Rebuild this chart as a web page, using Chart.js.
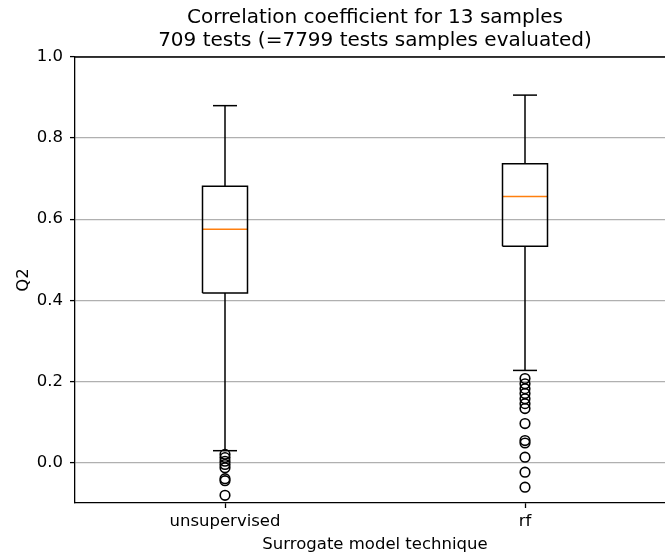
<!DOCTYPE html>
<html>
<head>
<meta charset="utf-8">
<script src="https://cdn.jsdelivr.net/npm/chart.js@4.4.1/dist/chart.umd.min.js"></script>
<style>
  html, body { margin: 0; padding: 0; background: #fff; overflow: hidden; }
  #wrap { width: 675px; height: 555px; }
</style>
</head>
<body>
<div id="wrap"><canvas id="myChart" width="675" height="555"></canvas></div>
<script>
  // box statistics
  const categories = ['unsupervised', 'rf'];
  const whiskerLow = [0.029, 0.227];
  const q1 = [0.418, 0.533];
  const median = [0.575, 0.656];
  const q3 = [0.681, 0.737];
  const whiskerHigh = [0.880, 0.906];
  const outliersUnsupervised = [0.020, 0.012, 0.003, -0.005, -0.013, -0.040, -0.045, -0.081];
  const outliersRf = [0.207, 0.194, 0.182, 0.170, 0.157, 0.145, 0.133, 0.096, 0.054, 0.048, 0.013, -0.024, -0.061];
  const outliers = [outliersUnsupervised, outliersRf];
  const yTicks = [0.0, 0.2, 0.4, 0.6, 0.8, 1.0];

  const boxHalf = 0.075;   // half box width, in x units
  const capHalf = 0.04;
  const font = { family: 'DejaVu Sans', size: 16.5, weight: 'normal' };

  const line = (data, color) => ({
    data: data,
    showLine: true,
    borderColor: color || '#000',
    borderWidth: 1.5,
    borderJoinStyle: 'miter',
    pointRadius: 0,
    pointHoverRadius: 0,
    fill: false,
    tension: 0
  });

  const datasets = [];
  categories.forEach((c, i) => {
    const x = i + 1;
    // box
    datasets.push(line([
      { x: x - boxHalf, y: q1[i] }, { x: x + boxHalf, y: q1[i] },
      { x: x + boxHalf, y: q3[i] }, { x: x - boxHalf, y: q3[i] },
      { x: x - boxHalf, y: q1[i] }
    ]));
    // whiskers
    datasets.push(line([{ x: x, y: q1[i] }, { x: x, y: whiskerLow[i] }]));
    datasets.push(line([{ x: x, y: q3[i] }, { x: x, y: whiskerHigh[i] }]));
    // caps
    datasets.push(line([{ x: x - capHalf, y: whiskerLow[i] }, { x: x + capHalf, y: whiskerLow[i] }]));
    datasets.push(line([{ x: x - capHalf, y: whiskerHigh[i] }, { x: x + capHalf, y: whiskerHigh[i] }]));
  });
  categories.forEach((c, i) => {
    const x = i + 1;
    datasets.push(line([{ x: x - boxHalf, y: median[i] }, { x: x + boxHalf, y: median[i] }], '#ff7f0e'));
  });
  categories.forEach((c, i) => {
    datasets.push({
      data: outliers[i].map(v => ({ x: i + 1, y: v })),
      showLine: false,
      pointStyle: 'circle',
      pointRadius: 4.8,
      pointHoverRadius: 4.8,
      pointBorderWidth: 1.6,
      borderColor: '#000',
      backgroundColor: 'rgba(0,0,0,0)'
    });
  });

  // top and right spines (matplotlib frame); the right one falls just outside the window
  const frame = {
    id: 'frame',
    afterDraw(chart) {
      const { ctx, chartArea: a } = chart;
      ctx.save();
      ctx.strokeStyle = '#000';
      ctx.lineWidth = 1.3;
      ctx.beginPath();
      ctx.moveTo(a.left - 0.65, a.top);
      ctx.lineTo(a.right, a.top);
      ctx.lineTo(a.right, a.bottom);
      ctx.stroke();
      ctx.restore();
    }
  };

  const ctx = document.getElementById('myChart').getContext('2d');
  const myChart = new Chart(ctx, {
    type: 'scatter',
    data: { datasets: datasets },
    options: {
      responsive: false,
      animation: false,
      layout: { padding: 0, autoPadding: false },
      plugins: {
        legend: { display: false },
        tooltip: { enabled: false },
        title: {
          display: true,
          fullSize: false,
          text: ['Correlation coefficient for 13 samples', '709 tests (=7799 tests samples evaluated)'],
          color: '#000',
          font: { family: 'DejaVu Sans', size: 20, weight: 'normal', lineHeight: 1.15 },
          padding: { top: 6, bottom: 5 }
        }
      },
      scales: {
        x: {
          type: 'linear',
          min: 0.5,
          max: 2.5,
          afterBuildTicks: s => { s.ticks = categories.map((c, i) => ({ value: i + 1 })); },
          afterFit: s => {
            s.height = 52;
            s.paddingLeft = 0;
            s.paddingRight = 0;
          },
          ticks: {
            callback: v => categories[Math.round(v) - 1],
            color: '#000',
            font: font,
            padding: 4,
            maxRotation: 0
          },
          grid: { drawOnChartArea: false, tickLength: 5, tickColor: '#000', tickWidth: 1.3 },
          border: { color: '#000', width: 1.3 },
          title: { display: true, text: 'Surrogate model technique', color: '#000', font: font, padding: 0 }
        },
        y: {
          type: 'linear',
          min: -0.1,
          max: 1.0,
          afterBuildTicks: s => { s.ticks = yTicks.map(v => ({ value: v })); },
          afterFit: s => {
            s.width = 75;
            s.paddingTop = 0;
            s.paddingBottom = 0;
          },
          ticks: {
            callback: v => v.toFixed(1),
            color: '#000',
            font: font,
            padding: 7
          },
          grid: { color: '#b0b0b0', lineWidth: 1.2, tickLength: 5, tickColor: '#000', tickWidth: 1.3 },
          border: { color: '#000', width: 1.3 },
          title: { display: true, text: 'Q2', color: '#000', font: font, padding: { top: 14, bottom: 0 } }
        }
      }
    },
    plugins: [frame]
  });
</script>
</body>
</html>
